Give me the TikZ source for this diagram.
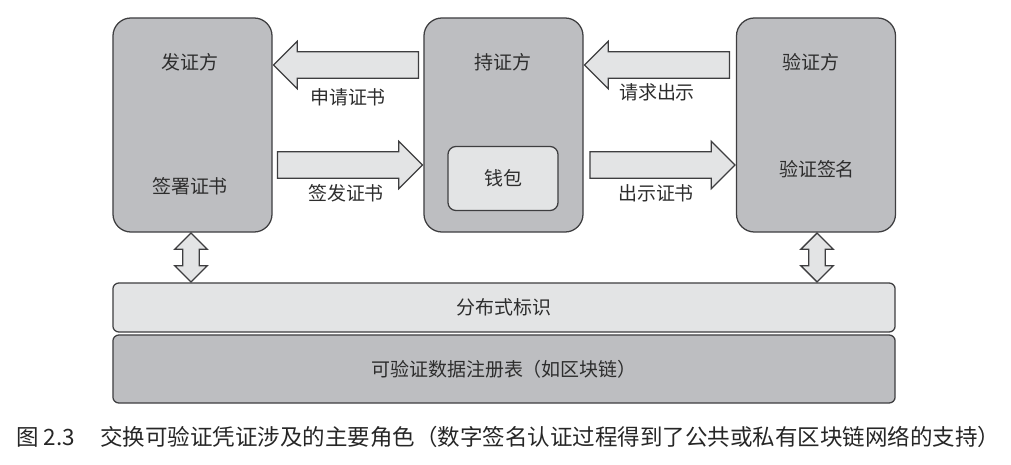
\documentclass[tikz,border=0pt]{standalone}
\usepackage{xcolor}
\usepackage{fontspec}
\usepackage{tikz}
\usetikzlibrary{shapes.arrows,positioning}
\setmainfont{Noto Sans CJK SC}
\newfontfamily\cjk{Noto Sans CJK SC}

\definecolor{roleGray}{RGB}{189,190,193}
\definecolor{paleGray}{RGB}{227,228,229}
\definecolor{edgeGray}{RGB}{62,62,64}
\definecolor{inkGray}{RGB}{45,45,45}

\tikzset{
  role/.style={draw=edgeGray, line width=0.9pt, fill=roleGray, rounded corners=0.45cm,
    minimum width=3.975cm, minimum height=5.35cm},
  wallet/.style={draw=edgeGray, line width=0.9pt, fill=paleGray, rounded corners=0.2cm,
    minimum width=2.75cm, minimum height=1.6cm},
  layer/.style={draw=edgeGray, line width=0.9pt, rounded corners=0.15cm, minimum width=19.55cm},
  fatarrow/.style={single arrow, draw=edgeGray, line width=0.9pt, fill=paleGray,
    inner xsep=0pt, inner ysep=0.3125cm, single arrow head extend=0.2625cm, minimum height=3.625cm},
  twoway/.style={double arrow, draw=edgeGray, line width=0.9pt, fill=paleGray,
    inner xsep=0.19cm, inner ysep=0pt, double arrow head extend=0.2cm, minimum height=1.22cm,
    shape border rotate=90},
  txt/.style={text=inkGray, font=\cjk\fontsize{13.5}{16}\selectfont},
}

\begin{document}
\begin{tikzpicture}[x=0.025cm,y=-0.025cm]
  \useasboundingbox (0,0) rectangle (1011,465);
  % three roles
  \node[role] (issuer) at (192.5,125) {};
  \node[role] (holder) at (503.5,125) {};
  \node[role] (verifier) at (816,125) {};
  \node[wallet] (wallet) at (503,178.5) {};
  % role texts
  \node[txt] (issuerT) at (190,62) {发证方};
  \node[txt] (issuerB) at (190,186) {签署证书};
  \node[txt] (holderT) at (503,62) {持证方};
  \node[txt] (walletT) at (wallet) {钱包};
  \node[txt] (verifierT) at (811,62) {验证方};
  \node[txt] (verifierB) at (817,169) {验证签名};
  % flow arrows between the roles
  \node[fatarrow, shape border rotate=180, anchor=tip] (request) at (issuer.east |- 0,65) {};
  \node[fatarrow, anchor=tip] (issue) at (holder.west |- 0,165) {};
  \node[fatarrow, shape border rotate=180, anchor=tip] (ask) at (holder.east |- 0,65) {};
  \node[fatarrow, anchor=tip] (present) at (verifier.west |- 0,165) {};
  \node[txt] (requestL) at (348,97) {申请证书};
  \node[txt] (issueL) at (346,193) {签发证书};
  \node[txt] (askL) at (657,92) {请求出示};
  \node[txt] (presentL) at (656,193) {出示证书};
  % identity and registry layers
  \node[layer, fill=paleGray, minimum height=1.225cm] (did) at (504,307.5) {};
  \node[layer, fill=roleGray, minimum height=1.7cm] (registry) at (504,369) {};
  \node[txt] (didT) at (did) {分布式标识};
  \node[txt] (registryT) at (registry) {可验证数据注册表（如区块链）};
  % links down to the layers
  \node[twoway] (issuerLink) at (191,257.5) {};
  \node[twoway] (verifierLink) at (817,257.5) {};
  % caption
  \node[anchor=west, text=black!85, font=\cjk\fontsize{16}{19}\selectfont, inner sep=0pt] (fignum) at (16,437) {图 2.3};
  \node[anchor=west, text=black!85, font=\cjk\fontsize{16}{19}\selectfont, inner sep=0pt] (caption) at (100,437)
    {交换可验证凭证涉及的主要角色（数字签名认证过程得到了公共或私有区块链网络的支持）};
\end{tikzpicture}
\end{document}
